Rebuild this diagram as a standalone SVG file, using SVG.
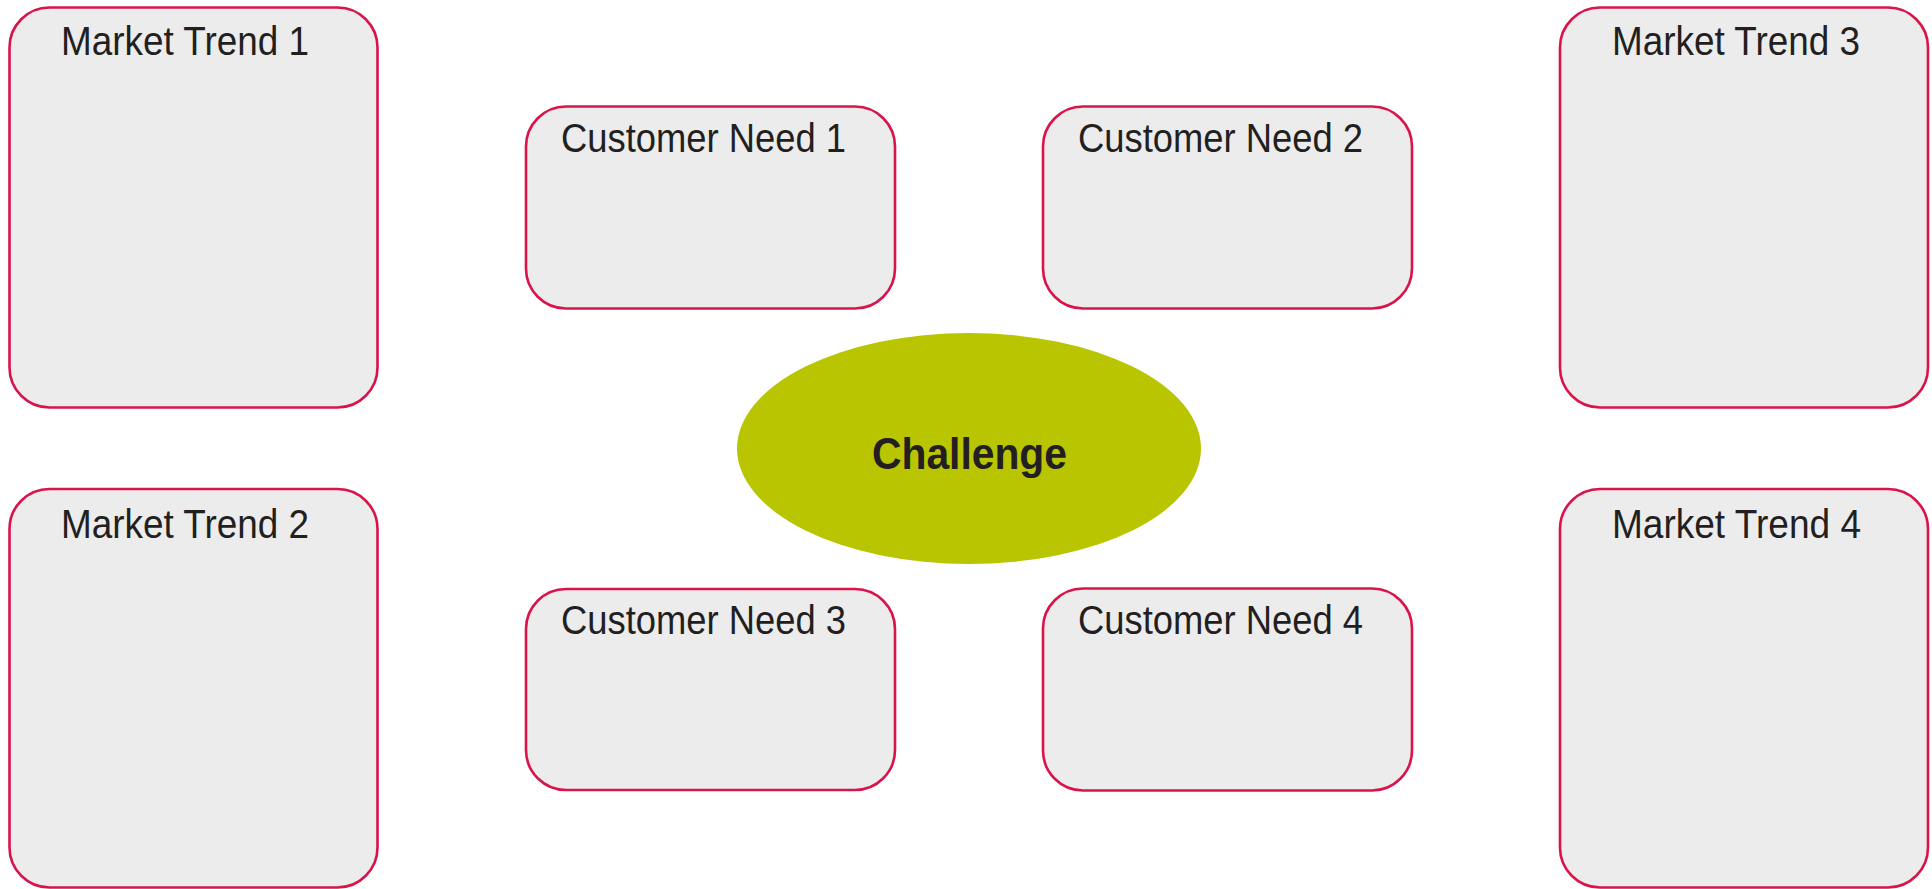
<svg xmlns="http://www.w3.org/2000/svg" width="1932" height="889" viewBox="0 0 1932 889">
  <style>
    .box { fill: #ececec; stroke: #d9144b; stroke-width: 2.6; }
    .label { font-family: "Liberation Sans", Arial, sans-serif; font-size: 40px; fill: #231f20; }
    .core { fill: #b9c500; }
    .core-label { font-family: "Liberation Sans", Arial, sans-serif; font-size: 44px; font-weight: bold; fill: #231f20; }
  </style>
  <rect width="1932" height="889" fill="#ffffff"/>

  <!-- market trends -->
  <g id="market-trend-1">
    <rect class="box" x="9.5" y="7.5" width="368" height="400" rx="40" ry="40"/>
    <text class="label" x="61" y="55" textLength="248" lengthAdjust="spacingAndGlyphs">Market Trend 1</text>
  </g>
  <g id="market-trend-2">
    <rect class="box" x="9.5" y="489" width="368" height="398.5" rx="40" ry="40"/>
    <text class="label" x="61" y="538" textLength="248" lengthAdjust="spacingAndGlyphs">Market Trend 2</text>
  </g>
  <g id="market-trend-3">
    <rect class="box" x="1560" y="7.5" width="368" height="400" rx="40" ry="40"/>
    <text class="label" x="1612" y="55" textLength="248" lengthAdjust="spacingAndGlyphs">Market Trend 3</text>
  </g>
  <g id="market-trend-4">
    <rect class="box" x="1560" y="489" width="368" height="398.5" rx="40" ry="40"/>
    <text class="label" x="1612" y="538" textLength="249" lengthAdjust="spacingAndGlyphs">Market Trend 4</text>
  </g>

  <!-- customer needs -->
  <g id="customer-need-1">
    <rect class="box" x="526" y="106.5" width="369" height="202" rx="40" ry="40"/>
    <text class="label" x="561" y="152" textLength="285" lengthAdjust="spacingAndGlyphs">Customer Need 1</text>
  </g>
  <g id="customer-need-2">
    <rect class="box" x="1043" y="106.5" width="369" height="202" rx="40" ry="40"/>
    <text class="label" x="1078" y="152" textLength="285" lengthAdjust="spacingAndGlyphs">Customer Need 2</text>
  </g>
  <g id="customer-need-3">
    <rect class="box" x="526" y="589" width="369" height="201" rx="40" ry="40"/>
    <text class="label" x="561" y="634" textLength="285" lengthAdjust="spacingAndGlyphs">Customer Need 3</text>
  </g>
  <g id="customer-need-4">
    <rect class="box" x="1043" y="588.5" width="369" height="202" rx="40" ry="40"/>
    <text class="label" x="1078" y="634" textLength="285" lengthAdjust="spacingAndGlyphs">Customer Need 4</text>
  </g>

  <!-- central challenge -->
  <g id="challenge">
    <ellipse class="core" cx="969" cy="448.5" rx="232" ry="115.5"/>
    <text class="core-label" x="969.5" y="469" text-anchor="middle" textLength="195" lengthAdjust="spacingAndGlyphs">Challenge</text>
  </g>

  <g id="connectors"></g>
</svg>
